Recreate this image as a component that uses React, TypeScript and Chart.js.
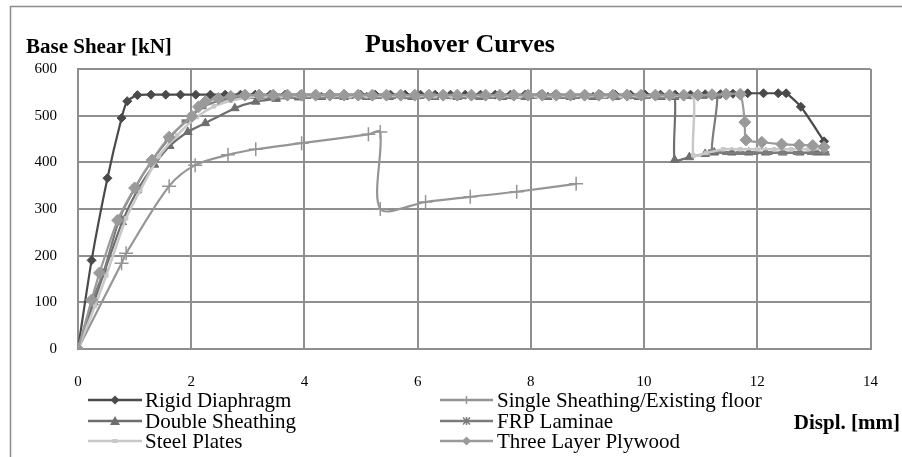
import React, { useEffect, useRef } from "react";
import { Chart, registerables } from "chart.js";

Chart.register(...registerables);

const FONT = '"Liberation Serif", "Times New Roman", serif';

const xTicks = [0, 2, 4, 6, 8, 10, 12, 14];
const yTicks = [0, 100, 200, 300, 400, 500, 600];

const rigidX = [0, 0.24, 0.52, 0.77, 0.87, 1.05, 1.29, 1.55, 1.81, 2.08, 2.34, 2.6, 2.87, 3.13, 3.4, 3.66, 3.93, 4.19, 4.46, 4.72, 4.99, 5.25, 5.52, 5.78, 6.05, 6.31, 6.58, 6.84, 7.11, 7.37, 7.64, 7.9, 8.17, 8.43, 8.7, 8.96, 9.23, 9.49, 9.76, 10.02, 10.29, 10.55, 10.82, 11.08, 11.35, 11.57, 11.83, 12.11, 12.37, 12.51, 12.77, 13.18];
const rigidY = [0, 190, 366, 495, 531, 544, 545, 545, 545, 545, 545, 545, 545, 545, 545, 545, 545, 545, 545, 545, 545, 545, 545, 545, 545, 545, 545, 545, 545, 545, 545, 545, 545, 545, 545, 545, 545, 545, 545, 545, 545, 545, 545, 546, 546, 547, 548, 548, 548, 548, 519, 445];

const singleX = [0, 0.77, 0.85, 1.61, 2.07, 2.65, 3.14, 3.95, 5.13, 5.34, 5.34, 6.14, 6.93, 7.75, 8.8];
const singleY = [0, 184, 205, 349, 394, 416, 428, 441, 460, 465, 300, 315, 326, 337, 354];

const doubleX = [0, 0.28, 0.45, 0.78, 1.05, 1.35, 1.62, 1.94, 2.25, 2.77, 3.14, 3.5, 3.9, 4.3, 4.7, 5.1, 5.5, 5.9, 6.3, 6.7, 7.1, 7.5, 7.9, 8.3, 8.7, 9.1, 9.5, 9.9, 10.3, 10.54, 10.54, 10.8, 11.08, 11.24, 11.55, 11.85, 12.15, 12.45, 12.75, 13.05, 13.2];
const doubleY = [0, 100, 160, 272, 340, 395, 435, 465, 484, 516, 530, 536, 539, 540, 540, 540, 540, 540, 540, 540, 540, 540, 540, 540, 540, 540, 540, 540, 540, 540, 405, 411, 418, 421, 421, 421, 421, 421, 421, 421, 421];

const frpX = [0, 0.26, 0.46, 0.74, 1.02, 1.3, 1.6, 1.9, 2.2, 2.5, 2.8, 3.05, 3.3, 3.55, 3.8, 4.05, 4.3, 4.55, 4.8, 5.05, 5.3, 5.55, 5.8, 6.05, 6.3, 6.55, 6.8, 7.05, 7.3, 7.55, 7.8, 8.05, 8.3, 8.55, 8.8, 9.05, 9.3, 9.55, 9.8, 10.05, 10.3, 10.55, 10.8, 11.05, 11.29, 11.2, 11.45, 11.7, 11.95, 12.2, 12.45, 12.7, 12.95, 13.2];
const frpY = [0, 105, 168, 282, 348, 402, 450, 488, 518, 532, 538, 540, 540, 540, 540, 540, 540, 540, 540, 540, 540, 540, 540, 540, 540, 540, 540, 540, 540, 540, 540, 540, 540, 540, 540, 540, 540, 540, 540, 540, 540, 540, 540, 540, 540, 424, 420, 420, 420, 420, 420, 420, 420, 420];

const steelX = [0, 0.3, 0.5, 0.85, 1.1, 1.43, 1.75, 2.1, 2.4, 2.7, 3.0, 3.3, 3.6, 3.9, 4.2, 4.5, 4.8, 5.1, 5.4, 5.7, 6.0, 6.3, 6.6, 6.9, 7.2, 7.5, 7.8, 8.1, 8.4, 8.7, 9.0, 9.3, 9.6, 9.9, 10.2, 10.5, 10.87, 10.87, 11.1, 11.4, 11.7, 12.0, 12.3, 12.6, 12.9, 13.2];
const steelY = [0, 92, 158, 280, 340, 413, 458, 497, 520, 532, 539, 542, 542, 542, 542, 542, 542, 542, 542, 542, 542, 542, 542, 542, 542, 542, 542, 542, 542, 542, 542, 542, 542, 542, 542, 542, 542, 415, 420, 428, 428, 428, 428, 428, 428, 428];

const plyX = [0, 0.24, 0.38, 0.7, 1.0, 1.31, 1.61, 2.01, 2.13, 2.25, 2.48, 2.7, 2.95, 3.2, 3.45, 3.7, 3.95, 4.2, 4.45, 4.7, 4.95, 5.2, 5.45, 5.7, 5.95, 6.2, 6.45, 6.7, 6.95, 7.2, 7.45, 7.7, 7.95, 8.2, 8.45, 8.7, 8.95, 9.2, 9.45, 9.7, 9.95, 10.2, 10.45, 10.7, 10.95, 11.2, 11.45, 11.7, 11.78, 11.8, 12.08, 12.43, 12.74, 12.98, 13.18];
const plyY = [0, 105, 163, 276, 345, 405, 454, 499, 519, 530, 537, 541, 544, 544, 544, 544, 544, 544, 544, 544, 544, 544, 544, 544, 544, 544, 544, 544, 544, 544, 544, 544, 544, 544, 544, 544, 544, 544, 544, 544, 544, 544, 544, 544, 544, 545, 546, 546, 486, 448, 443, 439, 437, 436, 433];

const seriesNames = [
  "Rigid Diaphragm",
  "Single Sheathing/Existing floor",
  "Double Sheathing",
  "FRP Laminae",
  "Steel Plates",
  "Three Layer Plywood",
];

type Spec = {
  xs: number[]; ys: number[]; color: string; marker: string; legendMarker: string;
  radius: number; pbw: number; bw: number; order: number; tension: number;
};

const specs: Spec[] = [
  { xs: rigidX, ys: rigidY, color: "#4a4a4a", marker: "rectRot", legendMarker: "diamond", radius: 4.5, pbw: 1, bw: 2.2, order: 6, tension: 0.2 },
  { xs: singleX, ys: singleY, color: "#959595", marker: "cross", legendMarker: "plus", radius: 7, pbw: 1.5, bw: 2.2, order: 5, tension: 0.3 },
  { xs: doubleX, ys: doubleY, color: "#6e6e6e", marker: "triangle", legendMarker: "triangle", radius: 5, pbw: 1, bw: 2.2, order: 4, tension: 0.2 },
  { xs: frpX, ys: frpY, color: "#7c7c7c", marker: "line", legendMarker: "star", radius: 4, pbw: 4, bw: 2.2, order: 3, tension: 0.2 },
  { xs: steelX, ys: steelY, color: "#c8c8c8", marker: "rect", legendMarker: "square", radius: 2.5, pbw: 1, bw: 2.5, order: 2, tension: 0.2 },
  { xs: plyX, ys: plyY, color: "#9a9a9a", marker: "rectRot", legendMarker: "diamond", radius: 6, pbw: 1, bw: 2.2, order: 1, tension: 0.2 },
];

function drawMarker(ctx: CanvasRenderingContext2D, kind: string, x: number, y: number, color: string) {
  ctx.save();
  ctx.fillStyle = color;
  ctx.strokeStyle = color;
  ctx.lineWidth = 1.5;
  ctx.beginPath();
  if (kind === "diamond") {
    ctx.moveTo(x, y - 4.5); ctx.lineTo(x + 4.5, y); ctx.lineTo(x, y + 4.5); ctx.lineTo(x - 4.5, y); ctx.closePath(); ctx.fill();
  } else if (kind === "triangle") {
    ctx.moveTo(x, y - 5); ctx.lineTo(x + 5, y + 4); ctx.lineTo(x - 5, y + 4); ctx.closePath(); ctx.fill();
  } else if (kind === "plus") {
    ctx.moveTo(x, y - 4); ctx.lineTo(x, y + 4); ctx.stroke();
  } else if (kind === "star") {
    ctx.moveTo(x - 3.5, y - 3.5); ctx.lineTo(x + 3.5, y + 3.5);
    ctx.moveTo(x + 3.5, y - 3.5); ctx.lineTo(x - 3.5, y + 3.5);
    ctx.moveTo(x, y - 4); ctx.lineTo(x, y + 4);
    ctx.stroke();
  } else if (kind === "square") {
    ctx.fillRect(x - 2.5, y - 2, 5, 4);
  }
  ctx.restore();
}

const decorPlugin = {
  id: "decor",
  afterDraw(chart: any) {
    const ctx: CanvasRenderingContext2D = chart.ctx;
    ctx.save();
    // frame
    ctx.strokeStyle = "#8c8c8c";
    ctx.lineWidth = 1.5;
    ctx.strokeRect(10.5, 6.5, 1000, 1000);
    // titles
    ctx.fillStyle = "#000";
    ctx.textBaseline = "alphabetic";
    ctx.font = `bold 26px ${FONT}`;
    ctx.textAlign = "center";
    ctx.fillText("Pushover Curves", 460, 52);
    ctx.font = `bold 21px ${FONT}`;
    ctx.textAlign = "left";
    ctx.fillText("Base Shear [kN]", 26, 53);
    ctx.textAlign = "right";
    ctx.fillText("Displ. [mm]", 900, 429);
    // legend
    const rows = [400, 421, 441];
    const cols = [
      { x1: 88, x2: 142, tx: 145 },
      { x1: 440, x2: 493, tx: 497 },
    ];
    ctx.font = `21px ${FONT}`;
    ctx.textAlign = "left";
    specs.forEach((s, i) => {
      const col = cols[i % 2];
      const y = rows[Math.floor(i / 2)];
      ctx.strokeStyle = s.color;
      ctx.lineWidth = 2.5;
      ctx.beginPath();
      ctx.moveTo(col.x1, y);
      ctx.lineTo(col.x2, y);
      ctx.stroke();
      drawMarker(ctx, s.legendMarker, (col.x1 + col.x2) / 2, y, s.color);
      ctx.fillStyle = "#000";
      ctx.fillText(seriesNames[i], col.tx, y + 7);
    });
    ctx.restore();
  },
};

export default function App() {
  const ref = useRef<HTMLCanvasElement>(null);
  useEffect(() => {
    if (!ref.current) return;
    const datasets = specs.map((s, i) => ({
      label: seriesNames[i],
      data: s.xs.map((x, j) => ({ x, y: s.ys[j] })),
      showLine: true,
      borderColor: s.color,
      backgroundColor: s.color,
      borderWidth: s.bw,
      pointStyle: s.marker,
      pointRadius: s.radius,
      pointBorderWidth: s.pbw,
      pointBackgroundColor: s.color,
      pointBorderColor: s.color,
      tension: s.tension,
      order: s.order,
    }));
    const chart = new Chart(ref.current, {
      type: "scatter",
      data: { datasets: datasets as any },
      options: {
        animation: false,
        responsive: false,
        layout: { padding: { top: 69, right: 22, left: 0, bottom: 0 } },
        plugins: { legend: { display: false }, tooltip: { enabled: false }, title: { display: false } },
        scales: {
          x: {
            type: "linear",
            min: xTicks[0],
            max: xTicks[xTicks.length - 1],
            afterBuildTicks: (scale: any) => { scale.ticks = xTicks.map((v) => ({ value: v })); },
            afterFit: (scale: any) => { scale.height = 108; },
            ticks: { color: "#000", font: { family: FONT, size: 15 }, padding: 24, maxRotation: 0 },
            grid: { color: "#8f8f8f", lineWidth: 2, drawTicks: false },
            border: { color: "#8f8f8f", width: 2 },
          },
          y: {
            type: "linear",
            min: yTicks[0],
            max: yTicks[yTicks.length - 1],
            afterBuildTicks: (scale: any) => { scale.ticks = yTicks.map((v) => ({ value: v })); },
            afterFit: (scale: any) => { scale.width = 78; },
            ticks: { color: "#000", font: { family: FONT, size: 15 }, padding: 21 },
            grid: { color: "#8f8f8f", lineWidth: 2, drawTicks: false },
            border: { color: "#8f8f8f", width: 2 },
          },
        },
      },
      plugins: [decorPlugin],
    });
    return () => chart.destroy();
  }, []);
  return (
    <div style={{ position: "absolute", left: 0, top: 0, width: 902, height: 457, background: "#fff" }}>
      <canvas ref={ref} width={902} height={457} style={{ display: "block" }} />
    </div>
  );
}
